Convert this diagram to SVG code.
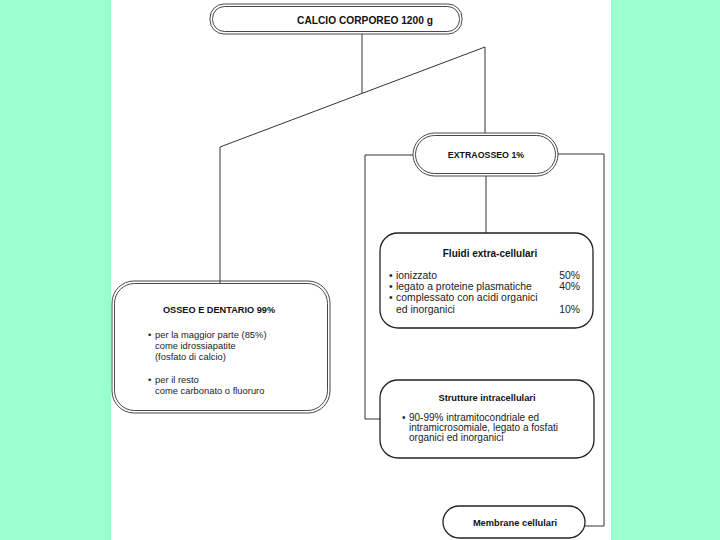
<svg xmlns="http://www.w3.org/2000/svg" width="720" height="540" viewBox="0 0 720 540">
<style>
.b{fill:none;stroke:#222;stroke-width:1.3}
.d{fill:none;stroke:#333;stroke-width:0.9}
.c{fill:none;stroke:#333;stroke-width:1}
.h{font-family:"Liberation Sans",Arial,sans-serif;font-weight:bold;fill:#111}
.t{font-family:"Liberation Sans",Arial,sans-serif;fill:#222}
</style>
<rect x="0" y="0" width="720" height="540" fill="#99ffcc"/>
<rect x="111" y="0" width="500" height="540" fill="#ffffff"/>
<g id="connectors">
<polyline class="c" points="362,34 362,93"/>
<polyline class="c" points="220,283 220,147 485,47 485,133"/>
<polyline class="c" points="413,155 365,155 365,419 380,419"/>
<polyline class="c" points="486,176 486,233"/>
<polyline class="c" points="558,154 604,154 604,526 585,526"/>
</g>
<g id="calcio">
<rect class="d" x="210" y="4" width="252" height="30" rx="14"/>
<rect class="d" x="212.5" y="6.5" width="247" height="25" rx="12"/>
<text class="h" x="365" y="24" text-anchor="middle" style="font-size:10.2px">CALCIO CORPOREO 1200 g</text>
</g>
<g id="extraosseo">
<rect class="d" x="413" y="133" width="145" height="43" rx="21.5"/>
<rect class="d" x="415.5" y="135.5" width="140" height="38" rx="19"/>
<text class="h" x="486" y="158" text-anchor="middle" style="font-size:8.8px">EXTRAOSSEO 1%</text>
</g>
<g id="fluidi">
<rect class="b" x="380" y="233" width="213" height="95" rx="18"/>
<text class="h" x="490" y="257" text-anchor="middle" style="font-size:10px">Fluidi extra-cellulari</text>
<g class="t" style="font-size:10.4px">
<text x="389" y="279">•</text><text x="396" y="279">ionizzato</text><text x="580" y="279" text-anchor="end">50%</text>
<text x="389" y="290">•</text><text x="396" y="290">legato a proteine plasmatiche</text><text x="580" y="290" text-anchor="end">40%</text>
<text x="389" y="301">•</text><text x="396" y="301">complessato con acidi organici</text>
<text x="396" y="313">ed inorganici</text><text x="580" y="313" text-anchor="end">10%</text>
</g>
</g>
<g id="osseo">
<rect class="d" x="112" y="281" width="218" height="132" rx="22"/>
<rect class="d" x="114.5" y="283.5" width="213" height="127" rx="20"/>
<text class="h" x="219" y="313" text-anchor="middle" style="font-size:9.2px">OSSEO E DENTARIO 99%</text>
<g class="t" style="font-size:9.4px">
<text x="148" y="338">•</text><text x="155" y="338">per la maggior parte (85%)</text>
<text x="155" y="349">come idrossiapatite</text>
<text x="155" y="360">(fosfato di calcio)</text>
<text x="148" y="383">•</text><text x="155" y="383">per il resto</text>
<text x="155" y="394">come carbonato o fluoruro</text>
</g>
</g>
<g id="strutture">
<rect class="b" x="380" y="380" width="214" height="78" rx="18"/>
<text class="h" x="487" y="401" text-anchor="middle" style="font-size:9.3px">Strutture intracellulari</text>
<g class="t" style="font-size:10px">
<text x="402" y="421">•</text><text x="409" y="421">90-99% intramitocondriale ed</text>
<text x="409" y="431">intramicrosomiale, legato a fosfati</text>
<text x="409" y="441">organici ed inorganici</text>
</g>
</g>
<g id="membrane">
<rect class="b" x="443" y="506" width="142" height="32" rx="16"/>
<text class="h" x="515" y="526" text-anchor="middle" style="font-size:9.3px">Membrane cellulari</text>
</g>
</svg>
